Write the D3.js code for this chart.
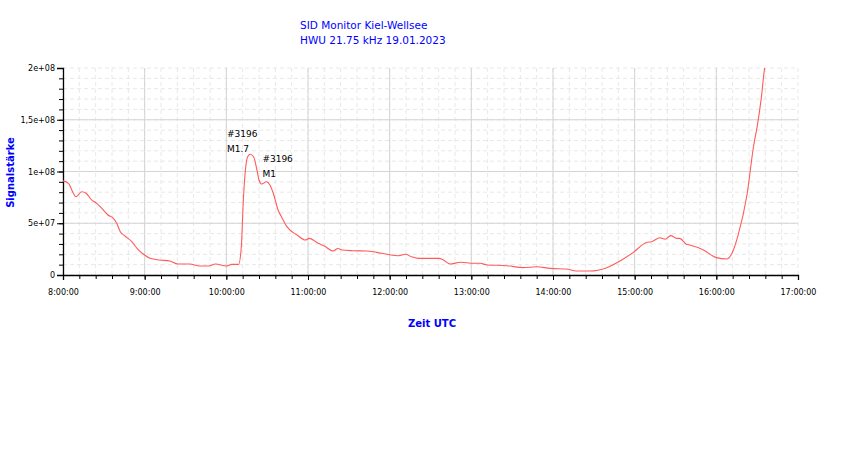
<!DOCTYPE html>
<html>
<head>
<meta charset="utf-8">
<script src="https://cdn.jsdelivr.net/npm/d3@7"></script>
<style>
  body { margin: 0; background: #fff; }
  svg { display: block; }
  .tick text { font-family: "DejaVu Sans", sans-serif; font-size: 8px; fill: #000; }
</style>
</head>
<body>
<div id="chart"></div>
<script>
// readings from the SID monitor, signal strength over UTC time
const times = [
  "8:00:00", "8:04:00", "8:07:36", "8:09:30", "8:13:42", "8:17:00", "8:21:00", "8:24:00",
  "8:28:30", "8:33:00", "8:37:00", "8:39:30", "8:42:00", "8:45:30", "8:50:30", "8:55:00",
  "9:00:00", "9:04:00", "9:11:00", "9:18:30", "9:24:30", "9:33:00", "9:40:30", "9:47:00",
  "9:52:00", "10:00:00", "10:04:00", "10:09:00", "10:11:00", "10:12:30", "10:14:00", "10:15:30",
  "10:17:30", "10:20:00", "10:22:30", "10:24:00", "10:26:00", "10:29:30", "10:32:00", "10:34:30",
  "10:38:00", "10:40:30", "10:44:30", "10:52:00", "10:58:00", "11:01:00", "11:07:30", "11:12:00",
  "11:18:30", "11:22:00", "11:25:00", "11:33:00", "11:43:00", "11:50:30", "11:58:00", "12:06:30",
  "12:11:30", "12:16:00", "12:21:00", "12:36:00", "12:39:30", "12:44:30", "12:52:00", "13:01:30",
  "13:06:30", "13:11:30", "13:26:00", "13:38:00", "13:48:00", "13:58:00", "14:10:00", "14:17:00",
  "14:27:00", "14:39:30", "14:50:30", "14:59:00", "15:09:00", "15:12:30", "15:18:30", "15:22:30",
  "15:26:30", "15:31:00", "15:33:00", "15:38:00", "15:40:30", "15:50:30", "16:00:00", "16:07:30",
  "16:11:30", "16:16:00", "16:22:30", "16:27:30", "16:30:00", "16:33:00", "16:35:30", "16:37:00"
];

const signal = [
  91e6, 88.6e6, 79e6, 75.6e6, 80.5e6, 79e6, 72.5e6, 70e6,
  64.4e6, 58e6, 54.8e6, 50e6, 42e6, 37.7e6, 32.2e6, 24.8e6,
  19.3e6, 16.1e6, 14.5e6, 13.5e6, 10.6e6, 10.6e6, 8.7e6, 8.7e6,
  10.6e6, 8.7e6, 10.3e6, 10.3e6, 27e6, 72.5e6, 101e6, 113.7e6,
  116.6e6, 114.3e6, 101.4e6, 91.8e6, 87.9e6, 90.1e6, 87e6, 79e6,
  62.8e6, 56.3e6, 46.7e6, 38.6e6, 33.8e6, 35.4e6, 30.6e6, 28e6,
  23.2e6, 25.6e6, 24.2e6, 23.5e6, 23.2e6, 21.9e6, 20e6, 18.6e6,
  20e6, 17.7e6, 16.1e6, 16.1e6, 14.5e6, 10.6e6, 12.3e6, 11.3e6,
  11.3e6, 9.7e6, 9e6, 7.1e6, 8e6, 6.4e6, 5.8e6, 3.9e6,
  3.9e6, 7.1e6, 14.5e6, 21.9e6, 31.6e6, 32.2e6, 36e6, 34.5e6,
  38e6, 35.4e6, 35.4e6, 29.7e6, 29e6, 24.2e6, 16.8e6, 15.5e6,
  21e6, 38.6e6, 77.3e6, 125.6e6, 143.3e6, 170.7e6, 200e6, 210e6
];

// flare labels: event number and class
const flareTimes = ["10:00:30", "10:26:30"];
const flareLines = [["#3196", "M1.7"], ["#3196", "M1"]];
const flareTops = [133.6e6, 109.5e6];

const titleLines = ["SID Monitor Kiel-Wellsee", "HWU 21.75 kHz 19.01.2023"];
const yTicks = [0, 5e7, 1e8, 1.5e8, 2e8];

const width = 850, height = 459;
const margin = { top: 68, right: 52, bottom: 184, left: 63 };
const blue = "#0000ff";

const parse = d3.timeParse("%H:%M:%S");
const data = times.map((t, i) => ({ t: parse(t), v: signal[i] }));

const x = d3.scaleTime()
  .domain([parse("8:00:00"), parse("17:00:00")])
  .range([margin.left, width - margin.right]);

const y = d3.scaleLinear()
  .domain([0, 2e8])
  .range([height - margin.bottom, margin.top]);

// 1e+08 style labels, comma as decimal mark
const sci = (v) => {
  if (v === 0) return "0";
  const e = Math.floor(Math.log10(v));
  const m = +(v / Math.pow(10, e)).toFixed(2);
  return String(m).replace(".", ",") + "e+" + String(e).padStart(2, "0");
};

const svg = d3.select("#chart").append("svg")
  .attr("width", width)
  .attr("height", height);

// title
svg.append("g")
  .selectAll("text")
  .data(titleLines)
  .join("text")
  .attr("x", 300)
  .attr("y", (d, i) => 28.5 + i * 15)
  .attr("fill", blue)
  .style("font-family", "'DejaVu Sans', sans-serif")
  .style("font-size", "10.5px")
  .text((d) => d);

// minor grid
const minorX = x.ticks(d3.timeMinute.every(12));
const minorY = d3.range(0, 2e8 + 1, 1e7);

const grid = svg.append("g");

grid.selectAll(".minor-x")
  .data(minorX)
  .join("line")
  .attr("class", "minor-x")
  .attr("x1", (d) => x(d))
  .attr("x2", (d) => x(d))
  .attr("y1", y(0))
  .attr("y2", y(2e8))
  .attr("stroke", "#e8e8e8")
  .attr("stroke-dasharray", "4,3");

grid.selectAll(".minor-y")
  .data(minorY)
  .join("line")
  .attr("class", "minor-y")
  .attr("x1", x.range()[0])
  .attr("x2", x.range()[1])
  .attr("y1", (d) => y(d))
  .attr("y2", (d) => y(d))
  .attr("stroke", "#e8e8e8")
  .attr("stroke-dasharray", "4,3");

// major grid
grid.selectAll(".major-x")
  .data(x.ticks(d3.timeHour.every(1)).slice(1, -1))
  .join("line")
  .attr("class", "major-x")
  .attr("x1", (d) => x(d))
  .attr("x2", (d) => x(d))
  .attr("y1", y(0))
  .attr("y2", y(2e8))
  .attr("stroke", "#d4d4d4");

grid.selectAll(".major-y")
  .data(yTicks.slice(1, -1))
  .join("line")
  .attr("class", "major-y")
  .attr("x1", x.range()[0])
  .attr("x2", x.range()[1])
  .attr("y1", (d) => y(d))
  .attr("y2", (d) => y(d))
  .attr("stroke", "#d4d4d4");

// axes
const xMinorAxis = d3.axisBottom(x)
  .tickValues(minorX)
  .tickSize(4)
  .tickFormat("");

const xAxis = d3.axisBottom(x)
  .ticks(d3.timeHour.every(1))
  .tickSize(5)
  .tickPadding(9)
  .tickFormat(d3.timeFormat("%-H:%M:%S"));

const yMinorAxis = d3.axisLeft(y)
  .tickValues(minorY)
  .tickSize(4)
  .tickFormat("");

const yAxis = d3.axisLeft(y)
  .tickValues(yTicks)
  .tickSize(6)
  .tickPadding(2)
  .tickFormat(sci);

svg.append("g")
  .attr("transform", `translate(0,${y(0)})`)
  .call(xMinorAxis)
  .call((g) => g.selectAll(".tick line").attr("stroke", "#000"));

svg.append("g")
  .attr("transform", `translate(0,${y(0)})`)
  .call(xAxis)
  .call((g) => g.select(".domain").attr("stroke", "#000").attr("stroke-width", 1.3))
  .call((g) => g.selectAll(".tick line").attr("stroke", "#000"));

svg.append("g")
  .attr("transform", `translate(${x.range()[0]},0)`)
  .call(yMinorAxis);

svg.append("g")
  .attr("transform", `translate(${x.range()[0]},0)`)
  .call(yAxis)
  .call((g) => g.select(".domain").attr("stroke", "#000").attr("stroke-width", 1.3));

svg.selectAll(".domain").filter(function () { return this.parentNode.querySelector("text") === null; }).remove();

// axis titles
svg.append("text")
  .attr("transform", `translate(14,${(y(0) + y(2e8)) / 2 + 1}) rotate(-90)`)
  .attr("text-anchor", "middle")
  .attr("fill", blue)
  .style("font-family", "'DejaVu Sans', sans-serif")
  .style("font-size", "10px")
  .style("font-weight", "bold")
  .text("Signalstärke");

svg.append("text")
  .attr("x", 432)
  .attr("y", 327)
  .attr("text-anchor", "middle")
  .attr("fill", blue)
  .style("font-family", "'DejaVu Sans', sans-serif")
  .style("font-size", "10px")
  .style("font-weight", "bold")
  .text("Zeit UTC");

// signal line
svg.append("clipPath")
  .attr("id", "plot-clip")
  .append("rect")
  .attr("x", x.range()[0])
  .attr("y", y(2e8))
  .attr("width", x.range()[1] - x.range()[0])
  .attr("height", y(0) - y(2e8));

const line = d3.line()
  .x((d) => x(d.t))
  .y((d) => y(d.v))
  .curve(d3.curveMonotoneX);

svg.append("path")
  .datum(data)
  .attr("clip-path", "url(#plot-clip)")
  .attr("fill", "none")
  .attr("stroke", "#ff5a5a")
  .attr("stroke-width", 1.1)
  .attr("d", line);

// flare annotations
const notes = svg.append("g")
  .selectAll("g")
  .data(flareTimes.map((t, i) => ({ t: parse(t), v: flareTops[i], lines: flareLines[i] })))
  .join("g")
  .attr("transform", (d) => `translate(${x(d.t)},${y(d.v)})`);

notes.selectAll("text")
  .data((d) => d.lines)
  .join("text")
  .attr("y", (d, i) => i * 15)
  .attr("fill", "#000")
  .style("font-family", "'DejaVu Sans', sans-serif")
  .style("font-size", "9px")
  .text((d) => d);
</script>
</body>
</html>
